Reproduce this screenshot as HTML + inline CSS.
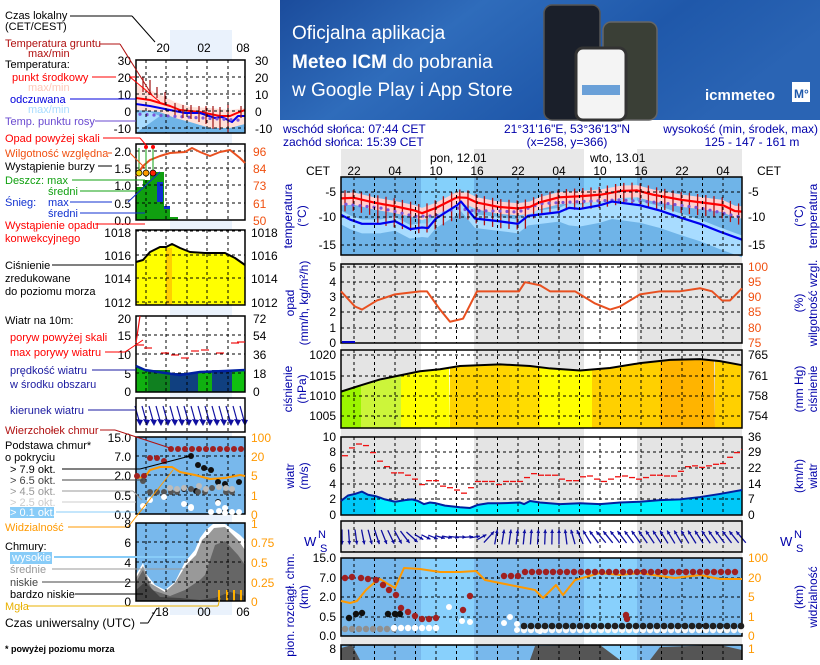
<!DOCTYPE html>
<html><head><meta charset="utf-8">
<style>
html,body{margin:0;padding:0;background:#fff;}
body{width:820px;height:660px;overflow:hidden;position:relative;font-family:"Liberation Sans",sans-serif;}
svg text{font-family:"Liberation Sans",sans-serif;}
</style></head><body>
<svg id="s" width="820" height="660" viewBox="0 0 820 660" xmlns="http://www.w3.org/2000/svg">
<defs>
<linearGradient id="bn" x1="0" y1="0" x2="1" y2="0.3">
<stop offset="0" stop-color="#1b4c9c"/><stop offset="0.35" stop-color="#2f6cbb"/><stop offset="0.7" stop-color="#1f58aa"/><stop offset="1" stop-color="#2a64b4"/></linearGradient>
</defs>
<rect x="280" y="0" width="540" height="120" fill="url(#bn)"/>
<text x="292" y="39" fill="#fff" font-size="19">Oficjalna aplikacja</text>
<text x="292" y="68" fill="#fff" font-size="19"><tspan font-weight="bold">Meteo ICM</tspan> do pobrania</text>
<text x="292" y="96" fill="#fff" font-size="19">w Google Play i App Store</text>
<rect x="544" y="5" width="56" height="115" rx="8" fill="#1a1f2a" stroke="#555" stroke-width="1.5"/>
<rect x="603" y="22" width="54" height="98" rx="8" fill="#3a3f36" stroke="#666" stroke-width="1.5"/>
<rect x="576" y="48" width="50" height="72" rx="7" fill="#f4f4f4" stroke="#333" stroke-width="3"/>
<rect x="582" y="85" width="38" height="10" fill="#6aa0d8"/>
<text x="705" y="100" fill="#fff" font-size="15" font-weight="bold">icmmeteo</text>
<rect x="792" y="82" width="18" height="20" fill="#fff"/><text x="794" y="98" fill="#1f58aa" font-size="12" font-weight="bold">M°</text>
<g id="g"></g>
</svg>
<script>
const S=document.getElementById('g');let h='';
function T(x,y,t,o={}){h+=`<text x="${x}" y="${y}" font-size="${o.fs||12}" fill="${o.c||'#000'}" ${o.a?`text-anchor="${o.a}"`:''} ${o.w?'font-weight="bold"':''} ${o.tr?`transform="${o.tr}"`:''}>${t}</text>`;}
function R(x,y,w,hh,c,extra=''){h+=`<rect x="${x}" y="${y}" width="${w}" height="${hh}" fill="${c}" ${extra}/>`;}
function L(x1,y1,x2,y2,c,w=1,d=''){h+=`<line x1="${x1}" y1="${y1}" x2="${x2}" y2="${y2}" stroke="${c}" stroke-width="${w}" ${d?`stroke-dasharray="${d}"`:''}/>`;}
function P(pts,c,w,fill='none'){h+=`<polyline points="${pts.map(p=>p.join(',')).join(' ')}" fill="${fill}" stroke="${c}" stroke-width="${w}" stroke-linejoin="round"/>`;}
function G(pts,c){h+=`<polygon points="${pts.map(p=>p.join(',')).join(' ')}" fill="${c}"/>`;}
function C(x,y,r,c){h+=`<circle cx="${x}" cy="${y}" r="${r}" fill="${c}"/>`;}
function lerp(a,x){for(let i=0;i<a.length-1;i++){if(x>=a[i][0]&&x<=a[i+1][0]){let t=(x-a[i][0])/(a[i+1][0]-a[i][0]);return a[i][1]+t*(a[i+1][1]-a[i][1]);}}return x<a[0][0]?a[0][1]:a[a.length-1][1];}
const X0=341,X1=742,W=X1-X0;
const gx=[];for(let i=0;i<19;i++)gx.push(354+i*20.5);
const NB='#0000aa';
T(283,133,'wschód słońca: 07:44 CET',{c:NB});T(283,146,'zachód słońca: 15:39 CET',{c:NB});
T(567,133,'21°31\'16"E, 53°36\'13"N',{c:NB,a:'middle'});T(567,146,'(x=258,  y=366)',{c:NB,a:'middle'});
T(818,133,'wysokość (min, środek, max)',{c:NB,a:'end'});T(752,146,'125 - 147 - 161 m',{c:NB,a:'middle'});
[[341,421],[474,584],[637,742]].forEach(b=>R(b[0],149,b[1]-b[0],511,'#e8e8e8'));
T(430,162,'pon, 12.01',{});T(590,162,'wto, 13.01',{});
T(306,175,'CET',{});T(757,175,'CET',{});
['22','04','10','16','22','04','10','16','22','04'].forEach((l,i)=>T(354+i*41,175,l,{a:'middle'}));
const days=[[421,474],[584,637]];
function panel(y0,y1,bgN,bgD){R(X0,y0,W,y1-y0,bgN);if(bgD)days.forEach(d=>R(d[0],y0,d[1]-d[0],y1-y0,bgD));}
function frame(y0,y1,hl){gx.forEach(x=>L(x,y0,x,y1,'#000',1,'3,3'));hl.forEach(y=>L(X0,y,X1,y,'#000',1,'3,3'));R(X0,y0,W,y1-y0,'none','stroke="#000" stroke-width="1.5"');}
const ty=t=>192+(-5-t)*5.3;
panel(177,255,'#6fb4e8','#84d0fb');
const red=[[341,-6.2],[354,-6.1],[374,-7],[395,-7.7],[415,-8.5],[422,-9],[436,-8],[457,-6],[467,-6.1],[477,-7],[498,-7.8],[518,-8.1],[530,-7.8],[539,-7],[559,-6],[580,-5.8],[601,-5.5],[621,-4.8],[637,-4.7],[653,-5.5],[682,-6.5],[703,-7],[723,-7.5],[735,-8.6],[742,-8.7]];
const blu=[[341,-9.3],[350,-10.2],[362,-11],[380,-11],[395,-10.5],[410,-12],[422,-11.7],[428,-11.8],[436,-10],[457,-7.5],[461,-6.8],[475,-10],[498,-10.5],[518,-11],[528,-9.5],[559,-8.8],[569,-8],[580,-8.2],[600,-7.5],[612,-6.8],[640,-7.5],[660,-8.5],[680,-9.8],[700,-11],[720,-12.5],[742,-14]];
let la=blu.map(p=>[p[0],ty(p[1]+0.8)]);la.push([742,255],[341,255]);
G(la,'#a8dcff');
let lb=blu.map(p=>[p[0],ty(p[1]-1.8-(p[0]>560?1.5:0))]);lb.push([742,255],[341,255]);G(lb,'#6fb4e8');
let pk=red.map(p=>[p[0],ty(p[1]+1)]).concat(red.slice().reverse().map(p=>[p[0],ty(p[1]-1.3)]));G(pk,'#ffd0d0');
for(let x=345;x<742;x+=8.2){let t=lerp(red,x);let up=1.5,dn=(x>370&&x<530)?4:2.5;L(x,ty(t+up),x,ty(t-dn),'#b01010',1.3);}
const dew=[[341,-7.2],[380,-8],[415,-9.6],[436,-9.5],[457,-8],[470,-8.5],[500,-8.6],[518,-8.8],[540,-7.2],[580,-6.8],[620,-6.5],[660,-7],[700,-8],[742,-9.8]];
for(let x=346;x<742;x+=7){C(x,ty(lerp(dew,x)),1.6,'#7a55d8');}
P(red.map(p=>[p[0],ty(p[1])]),'#ff0000',2.2);P(blu.map(p=>[p[0],ty(p[1])]),'#0000ee',2.2);
frame(177,255,[192,217,245]);
[['-5',192],['-10',217],['-15',245]].forEach(a=>{T(336,a[1]+4,a[0],{a:'end'});T(748,a[1]+4,a[0]);});
T(0,0,'temperatura',{c:NB,a:'middle',tr:'translate(292,216) rotate(-90)'});T(0,0,'(°C)',{c:NB,a:'middle',tr:'translate(306,216) rotate(-90)'});
T(0,0,'(°C)',{c:NB,a:'middle',tr:'translate(803,216) rotate(-90)'});T(0,0,'temperatura',{c:NB,a:'middle',tr:'translate(817,216) rotate(-90)'});
panel(264,343,'#e4e4e4','#ffffff');
const rh=[[341,92],[355,87],[362,86],[377,89],[395,91],[420,92],[427,92],[440,86],[450,82],[463,83],[477,92],[500,92],[519,92],[525,95],[540,94],[550,92],[575,92],[595,88],[610,86],[620,87],[640,91],[660,92],[680,92],[700,93],[712,92],[722,89],[730,89],[742,93]];
frame(264,343,[267,282,297,312,328]);
P(rh.map(p=>[p[0],267+(100-p[1])*3.04]),'#e85020',2);
L(342,342,355,342,'#0000cc',2);
[['5',267],['4',282],['3',297],['2',312],['1',328],['0',343]].forEach(a=>T(336,a[1]+4,a[0],{a:'end'}));
[['100',267],['95',282],['90',297],['85',312],['80',328],['75',343]].forEach(a=>T(748,a[1]+4,a[0],{c:'#f05010'}));
T(0,0,'opad',{c:NB,a:'middle',tr:'translate(294,303) rotate(-90)'});T(0,0,'(mm/h, kg/m²/h)',{c:NB,a:'middle',tr:'translate(308,303) rotate(-90)'});
T(0,0,'(%)',{c:NB,a:'middle',tr:'translate(803,303) rotate(-90)'});T(0,0,'wilgotność wzgl.',{c:NB,a:'middle',tr:'translate(817,303) rotate(-90)'});
const py=p=>355+(1020-p)*4.07;
panel(350,428,'#e4e4e4','#ffffff');
const pr=[[341,1011],[360,1012.5],[380,1014],[400,1015],[420,1016],[440,1016.5],[460,1017.3],[500,1017.7],[530,1017.3],[550,1016.7],[580,1016.2],[610,1016.8],[640,1018],[670,1018.8],[700,1019],[720,1018.5],[742,1017.5]];
const cz=[[341,361,'#9cf500'],[361,401,'#ccf53a'],[401,450,'#ffff00'],[450,510,'#ffd400'],[510,540,'#ffdc00'],[540,592,'#ffff00'],[592,660,'#ffd000'],[660,715,'#ffb400'],[715,742,'#ffd000']];
cz.forEach(z=>{let pts=[];for(let x=z[0];x<=z[1];x+=2)pts.push([x,py(lerp(pr,x))]);pts.push([z[1],428],[z[0],428]);G(pts,z[2]);});
frame(350,428,[355,376,396,416]);
P(pr.map(p=>[p[0],py(p[1])]),'#000',2);
[['1020',355],['1015',376],['1010',396],['1005',416]].forEach(a=>T(336,a[1]+4,a[0],{a:'end'}));
[['765',355],['761',376],['758',396],['754',416]].forEach(a=>T(748,a[1]+4,a[0]));
T(0,0,'ciśnienie',{c:NB,a:'middle',tr:'translate(292,389) rotate(-90)'});T(0,0,'(hPa)',{c:NB,a:'middle',tr:'translate(306,389) rotate(-90)'});
T(0,0,'(mm Hg)',{c:NB,a:'middle',tr:'translate(803,389) rotate(-90)'});T(0,0,'ciśnienie',{c:NB,a:'middle',tr:'translate(817,389) rotate(-90)'});
const wy=v=>515-7.8*v;
panel(437,515,'#e4e4e4','#ffffff');
const ws=[[341,1.8],[348,2.5],[355,2.7],[362,3.0],[368,2.6],[376,2.4],[385,2.0],[395,1.7],[405,1.9],[412,2.0],[418,1.8],[424,1.4],[430,1.6],[436,1.5],[445,1.2],[460,1.0],[470,0.9],[478,1.3],[488,1.5],[500,1.5],[520,1.6],[524,1.4],[530,1.8],[540,1.6],[560,1.4],[580,1.5],[600,1.4],[620,1.6],[640,1.7],[660,1.9],[680,2.0],[700,2.3],[720,2.7],[742,3.2]];
let wa=ws.map(p=>[p[0],wy(p[1])]);wa.push([742,515],[341,515]);G(wa,'#00f0ff');
let wl=ws.filter(p=>p[0]<=376).map(p=>[p[0],wy(p[1])]);wl.push([376,515],[341,515]);G(wl,'#00c8f8');
let wr=ws.filter(p=>p[0]>=680).map(p=>[p[0],wy(p[1])]);wr.push([742,515],[680,515]);G(wr,'#00c8f8');
frame(437,515,[437,452,468,484,499]);
P(ws.map(p=>[p[0],wy(p[1])]),'#0020a0',2);
const gu=[7.6,8.6,9.1,8.9,8.0,6.9,6.2,5.4,5.4,5.1,4.6,3.9,4.4,4.4,3.7,3.5,3.2,2.8,3.5,4.3,4.3,4.3,3.9,4.3,4.3,4.3,4.8,5.3,5.1,5.1,5.1,4.6,4.4,4.4,4.9,5.0,4.6,4.3,4.6,4.9,5.0,4.8,4.6,4.8,5.1,5.1,5.0,5.0,5.6,6.2,6.3,6.1,6.3,6.5,6.6,7.4,8.0,8.4];
gu.forEach((v,i)=>{let x=342+i*7;if(x<742)L(x,wy(v),Math.min(x+6,742),wy(v),'#ee1010',1.3);});
[['10',437],['8',452],['6',468],['4',484],['2',499],['0',515]].forEach(a=>T(336,a[1]+4,a[0],{a:'end'}));
[['36',437],['29',452],['22',468],['14',484],['7',499],['0',515]].forEach(a=>T(748,a[1]+4,a[0]));
T(0,0,'wiatr',{c:NB,a:'middle',tr:'translate(294,476) rotate(-90)'});T(0,0,'(m/s)',{c:NB,a:'middle',tr:'translate(308,476) rotate(-90)'});
T(0,0,'(km/h)',{c:NB,a:'middle',tr:'translate(803,476) rotate(-90)'});T(0,0,'wiatr',{c:NB,a:'middle',tr:'translate(817,476) rotate(-90)'});
panel(521,552,'#e4e4e4','#ffffff');
gx.forEach(x=>L(x,521,x,552,'#000',1,'3,3'));
const dir=[[341,180],[400,150],[420,120],[450,100],[475,80],[490,40],[496,10],[560,0],[585,-30],[600,-40],[680,-30],[742,-40]];
for(let i=0;i<58;i++){let x=342+i*7;let a=lerp(dir,x)*Math.PI/180;let len=(lerp(dir,x)>60&&lerp(dir,x)<130)?10:15;let dx=Math.sin(a)*len/2,dy=-Math.cos(a)*len/2;let cx=x,cy=537;let x1=cx-dx,y1=cy-dy,x2=cx+dx,y2=cy+dy;L(x1,y1,x2,y2,'#1010a0',1.3);let ang=Math.atan2(y2-y1,x2-x1);let hx1=x2-4*Math.cos(ang-0.5),hy1=y2-4*Math.sin(ang-0.5),hx2=x2-4*Math.cos(ang+0.5),hy2=y2-4*Math.sin(ang+0.5);G([[x2,y2],[hx1,hy1],[hx2,hy2]],'#1010a0');}
R(X0,521,W,31,'none','stroke="#000" stroke-width="1.5"');
[[316,540],[792,540]].forEach(p=>{T(p[0]-12,p[1]+6,'W',{c:NB,fs:13});T(p[0]+2,p[1]-2,'N',{c:NB,fs:11});T(p[0]+4,p[1]+12,'S',{c:NB,fs:11});});
panel(558,636,'#78b8ec','#88d0fc');
const oy=[[341,601],[350,603],[357,601],[366,590],[375,582],[380,579],[388,584],[395,588],[404,568],[420,569],[440,572],[460,572],[476,571],[485,580],[500,583],[520,587],[535,590],[543,598],[556,585],[563,595],[575,580],[600,573],[620,575],[640,573],[660,576],[675,578],[700,575],[720,579],[742,579]];
frame(558,636,[578,597,617]);
P(oy,'#ff9900',2);
const dr=[[345,578],[352,577],[361,578],[368,579],[376,580],[383,585],[389,590],[396,595],[401,608],[408,612],[415,616],[422,619],[429,619],[436,618],[463,610],[470,596]];
dr.forEach(d=>C(d[0],d[1],3.2,'#a02020'));
for(let x=504;x<742;x+=7){C(x,x<520?576:572,3.2,'#a02020');}
[[349,618],[356,614],[362,613],[388,614],[395,614],[400,614]].forEach(d=>C(d[0],d[1],3.2,'#101010'));
for(let x=345;x<400;x+=7)C(x,629,3.2,'#909090');
for(let x=394;x<440;x+=7)C(x,628,3.2,'#ffffff');
[[449,607],[462,621],[470,622],[510,617],[504,623],[517,624],[517,630],[540,631]].forEach(d=>C(d[0],d[1],3,'#fff'));
for(let x=524;x<742;x+=7){C(x,630,3.2,'#f8f8f8');C(x,626,3.3,'#202020');}
[[626,615],[627,619]].forEach(d=>C(d[0],d[1],3.2,'#a02020'));
[['15.0',558],['7.0',578],['2.0',597],['0.5',617],['0.0',636]].forEach(a=>T(336,a[1]+4,a[0],{a:'end'}));
[['100',558],['20',578],['5',597],['1',617],['0',636]].forEach(a=>T(748,a[1]+4,a[0],{c:'#ff9900'}));
T(0,0,'pion. rozciągł. chm.',{c:NB,a:'middle',tr:'translate(294,605) rotate(-90)'});T(0,0,'(km)',{c:NB,a:'middle',tr:'translate(308,597) rotate(-90)'});
T(0,0,'(km)',{c:NB,a:'middle',tr:'translate(803,597) rotate(-90)'});T(0,0,'widzialność',{c:NB,a:'middle',tr:'translate(817,597) rotate(-90)'});
panel(645,660,'#78b8ec','#88d0fc');
G([[341,648],[352,645],[360,660],[341,660]],'#555');G([[530,660],[535,646],[600,645],[620,660]],'#555');G([[650,660],[660,647],[720,645],[742,650],[742,660]],'#555');
gx.forEach(x=>L(x,645,x,660,'#000',1,'3,3'));R(X0,645,W,20,'none','stroke="#000" stroke-width="1.5"');
T(336,653,'8',{a:'end'});T(748,653,'1',{c:'#ff9900'});
const lx0=136,lx1=245,lw=109;
R(170,30,62,585,'#eaf2fc');
const lgx=[146,166,187,207,228];
function lframe(y0,y1,hl){lgx.forEach(x=>L(x,y0,x,y1,'#000',1,'3,3'));hl.forEach(y=>L(lx0,y,lx1,y,'#000',1,'3,3'));R(lx0,y0,lw,y1-y0,'none','stroke="#000" stroke-width="1.5"');}
const fs=11;
T(5,19,'Czas lokalny',{fs});T(5,30,'(CET/CEST)',{fs});
L(70,16,132,16,'#000');L(132,16,155,42,'#000');
T(163,52,'20',{fs:12,a:'middle'});T(204,52,'02',{fs:12,a:'middle'});T(243,52,'08',{fs:12,a:'middle'});
R(lx0,60,lw,73,'#fff');
G([[136,84],[150,90],[165,97],[175,102],[190,107],[210,108],[230,110],[245,108],[245,133],[136,133]],'#ffe0d8');
G([[136,110],[160,112],[175,118],[190,122],[210,128],[230,128],[245,124],[245,133],[136,133]],'#6fb4e8');
G([[136,113],[150,112],[160,116],[136,133]],'#a8dcff');
P([[136,98],[150,100],[170,106],[180,110],[200,112],[220,116],[230,116],[237,113],[245,110]],'#ff0000',2);
P([[136,104],[150,106],[170,110],[185,113],[200,113],[215,118],[222,117],[232,122],[238,116],[245,116]],'#0000ee',2);
for(let x=140;x<245;x+=7)C(x,114+(x-136)*0.06,1.6,'#7a55d8');
[[143,77,92],[150,80,95],[157,87,98],[165,92,105],[175,103,115],[183,105,118],[191,105,119],[199,106,122],[206,106,124],[213,106,129],[220,107,130],[228,104,132],[241,106,118]].forEach(b=>L(b[0],b[1],b[0],b[2],'#a01010',1.2));
lframe(60,133,[77,94,111,128]);
[['30',60],['20',77],['10',94],['0',111],['-10',128]].forEach(a=>{T(131,a[1]+5,a[0],{a:'end',fs:12});T(255,a[1]+5,a[0],{fs:12});});
T(5,47,'Temperatura gruntu',{fs,c:'#b01010'});T(28,57,'max/min',{fs,c:'#b01010'});
L(100,44,120,44,'#b01010');L(120,44,152,95,'#b01010');
T(5,68,'Temperatura:',{fs});
T(12,81,'punkt środkowy',{fs,c:'#ff0000'});L(92,77,116,77,'#ff0000');L(129,77,136,77,'#ff0000');L(130,77,160,102,'#ff0000');
T(28,91,'max/min',{fs,c:'#ffc8b8'});
T(10,103,'odczuwana',{fs,c:'#0000dd'});L(70,99,136,99,'#0000dd');
T(28,113,'max/min',{fs,c:'#a8dcff'});
T(5,125,'Temp. punktu rosy',{fs,c:'#6a4ad0'});L(95,121,136,121,'#6a4ad0');
R(lx0,144,lw,76,'#fff');
R(136,187,23,33,'#10a010');R(143,180,16,40,'#10a010');R(150,172,14,48,'#10a010');R(157,186,6,34,'#10a010');R(164,206,6,14,'#10a010');R(170,217,8,3,'#10a010');
R(157,182,6,20,'#1030d0');R(164,206,6,3,'#1030d0');
lframe(144,220,[151,168,185,203]);
P([[136,176],[143,166],[150,160],[160,156],[170,153],[185,152],[192,148],[200,152],[210,156],[220,152],[230,150],[240,158],[245,163]],'#e85020',2);
[[139,173,'#f0d000'],[146,173,'#ff9900'],[153,173,'#ff2000']].forEach(c=>{L(c[0],148,c[0],173,'#10a010');C(c[0],173,3,c[2]);h+=`<circle cx="${c[0]}" cy="173" r="3" fill="none" stroke="#000" stroke-width=".7"/>`;});
C(146,147,2,'#ff0000');C(153,147,2,'#ff0000');
[['2.0',151],['1.5',168],['1.0',185],['0.5',203],['0.0',220]].forEach(a=>T(131,a[1]+5,a[0],{a:'end',fs:12}));
[['96',151],['84',168],['73',185],['61',203],['50',220]].forEach(a=>T(253,a[1]+5,a[0],{fs:12,c:'#f05010'}));
T(5,142,'Opad powyżej skali',{fs,c:'#ff0000'});L(103,138,140,138,'#ff0000');L(140,138,146,145,'#ff0000');
T(5,157,'Wilgotność względna',{fs,c:'#f05010'});L(108,153,112,153,'#f05010');L(130,153,145,168,'#f05010');
T(5,170,'Wystąpienie burzy',{fs});L(98,166,112,166,'#000');
T(5,184,'Deszcz: max',{fs,c:'#10a010'});L(72,180,145,180,'#10a010');
T(48,195,'średni',{fs,c:'#10a010'});L(80,191,145,191,'#10a010');
T(5,206,'Śnieg:',{fs,c:'#1030d0'});T(48,206,'max',{fs,c:'#1030d0'});L(70,202,112,202,'#1030d0');L(128,202,160,172,'#1030d0');
T(48,217,'średni',{fs,c:'#1030d0'});L(80,213,145,213,'#1030d0');
T(5,229,'Wystąpienie opadu',{fs,c:'#ff0000'});T(5,242,'konwekcyjnego',{fs,c:'#ff0000'});L(95,224,145,224,'#ff0000');
R(lx0,230,lw,75,'#fff');
G([[136,262],[143,260],[150,252],[160,247],[166,247],[172,244],[180,248],[190,252],[205,253],[225,253],[235,258],[245,265],[245,305],[136,305]],'#ffff00');
R(166,248,6,57,'#ffd000');
lframe(230,305,[231,255,278,302]);
P([[136,262],[143,260],[150,252],[160,247],[166,247],[172,244],[180,248],[190,252],[205,253],[225,253],[235,258],[245,265]],'#000',2);
[['1018',232],['1016',255],['1014',278],['1012',302]].forEach(a=>{T(131,a[1]+5,a[0],{a:'end',fs:12});T(251,a[1]+5,a[0],{fs:12});});
T(5,269,'Ciśnienie',{fs});L(52,265,134,265,'#000');T(5,282,'zredukowane',{fs});T(5,295,'do poziomu morza',{fs});
R(lx0,316,lw,76,'#fff');
G([[136,366],[145,370],[165,373],[180,375],[200,372],[225,371],[245,370],[245,392],[136,392]],'#10b010');
R(148,370,22,22,'#108020');R(170,373,28,19,'#104080');R(212,370,20,22,'#104080');R(232,370,13,22,'#10c010');
lframe(316,392,[335,354,373]);
P([[136,366],[145,370],[165,373],[180,375],[200,372],[225,371],[245,370]],'#0020a0',2.5);
[[140,345],[148,348],[165,353],[175,355],[185,358],[195,351],[205,350],[220,353],[235,343],[241,342]].forEach(g=>L(g[0]-4,g[1],g[0]+4,g[1],'#ee1010',1.2));
L(136,343,140,316,'#ee1010',1.2);
[['20',318],['15',335],['10',354],['5',373],['0',391]].forEach(a=>T(131,a[1]+5,a[0],{a:'end',fs:12}));
[['72',318],['54',335],['36',354],['18',373],['0',391]].forEach(a=>T(253,a[1]+5,a[0],{fs:12}));
T(5,324,'Wiatr na 10m:',{fs});
T(10,341,'poryw powyżej skali',{fs,c:'#ff0000'});
T(10,356,'max porywy wiatru',{fs,c:'#ff0000'});L(105,352,125,352,'#ff0000');L(125,352,143,340,'#ff0000');
T(10,374,'prędkość wiatru',{fs,c:'#1a1aa0'});L(92,370,136,370,'#1a1aa0');T(10,388,'w środku obszaru',{fs,c:'#1a1aa0'});
R(lx0,398,lw,34,'#fff');
for(let x=140;x<250;x+=7){L(x-5,406,x,424,'#1010a0',1.2);G([[x,426],[x-4,419],[x+3,420]],'#1010a0');}
lgx.forEach(x=>L(x,398,x,432,'#000',1,'3,3'));R(lx0,398,lw,34,'none','stroke="#000" stroke-width="1.5"');
T(10,414,'kierunek wiatru',{fs,c:'#1a1aa0'});L(88,410,136,410,'#1a1aa0');
R(lx0,437,lw,77,'#78b8ec');
lframe(437,514,[456,475,495]);
P([[136,478],[145,477],[150,470],[160,467],[172,467],[180,472],[195,475],[210,479],[225,478],[240,475],[245,476]],'#ff9900',2);
[[137,476],[144,476],[150,458],[157,458],[164,461],[171,449],[178,449],[185,449],[192,449],[199,449],[206,449],[213,449],[220,449],[227,449],[234,449],[241,449]].forEach(d=>C(d[0],d[1],3,'#a02020'));
[[191,456],[198,465],[204,468],[211,470],[218,482],[225,484],[239,482],[184,489],[196,491],[218,502],[225,512]].forEach(d=>C(d[0],d[1],3,'#111'));
[[143,481],[150,492],[157,492],[164,492],[171,492],[177,492],[191,489],[198,492],[205,492],[212,488],[226,492],[232,492]].forEach(d=>C(d[0],d[1],3,'#555'));
[[170,488],[177,489],[184,488],[199,486],[206,489],[219,487],[226,488],[232,489]].forEach(d=>C(d[0],d[1],3,'#bbb'));
[[143,506],[150,500],[164,497],[184,504],[191,507],[218,503],[225,508],[219,511],[225,513],[232,512],[239,512],[211,512],[191,508]].forEach(d=>C(d[0],d[1],3,'#fff'));
[['15.0',437],['7.0',456],['2.0',475],['0.5',495],['0.0',514]].forEach(a=>T(131,a[1]+5,a[0],{a:'end',fs:12}));
[['100',437],['20',456],['5',475],['1',495],['0',514]].forEach(a=>T(251,a[1]+5,a[0],{fs:12,c:'#ff9900'}));
T(5,434,'Wierzchołek chmur',{fs,c:'#b01010'});L(100,430,115,430,'#b01010');L(115,430,170,448,'#b01010');
T(5,449,'Podstawa chmur*',{fs});T(5,461,'o pokryciu',{fs});
T(10,473,'> 7.9 okt.',{fs});L(62,469,140,469,'#000');L(140,469,190,456,'#000');
T(10,484,'> 6.5 okt.',{fs,c:'#444'});L(62,480,143,480,'#444');
T(10,495,'> 4.5 okt.',{fs,c:'#999'});L(62,491,133,491,'#999');L(133,491,142,500,'#999');
T(10,506,'> 2.5 okt.',{fs,c:'#ccc'});L(62,502,136,502,'#ccc');
R(10,507,44,11,'#88ccf8');T(10,516,'> 0.1 okt.',{fs,c:'#fff'});L(56,512,136,512,'#88ccf8');
T(5,531,'Widzialność',{fs,c:'#ff9900'});L(68,527,128,527,'#ff9900');L(128,527,173,470,'#ff9900');
R(lx0,523,lw,78,'#78b8ec');
G([[136,575],[140,568],[143,563],[147,575],[155,585],[165,590],[175,582],[185,562],[195,550],[200,538],[206,530],[213,524],[225,524],[240,535],[245,540],[245,601],[136,601]],'#fff');
G([[136,578],[143,566],[150,583],[165,592],[175,583],[186,565],[196,555],[202,540],[208,535],[214,528],[225,527],[238,540],[245,550],[245,601],[136,601]],'#999');
G([[136,582],[143,570],[152,590],[170,596],[185,590],[200,580],[205,575],[215,545],[225,541],[238,555],[245,565],[245,601],[136,601]],'#666');
G([[136,590],[145,582],[160,597],[180,598],[200,600],[215,598],[230,592],[245,596],[245,601],[136,601]],'#444');
R(218,590,2,11,'#ffb000');R(226,590,2,11,'#ffb000');R(233,590,2,11,'#ffb000');R(240,590,2,11,'#ffb000');
lframe(523,601,[542,562,582]);
[['8',523],['6',542],['4',562],['2',582],['0',601]].forEach(a=>T(131,a[1]+5,a[0],{a:'end',fs:12}));
[['1',523],['0.75',542],['0.5',562],['0.25',582],['0',601]].forEach(a=>T(251,a[1]+5,a[0],{fs:12,c:'#ff9900'}));
T(5,550,'Chmury:',{fs});
R(10,552,42,12,'#88ccf8');T(12,561,'wysokie',{fs,c:'#fff'});L(54,557,186,557,'#88ccf8',2);
T(10,573,'średnie',{fs,c:'#999'});L(52,569,186,569,'#999');
T(10,586,'niskie',{fs,c:'#444'});L(42,582,136,582,'#444');
T(10,598,'bardzo niskie',{fs});L(75,594,143,594,'#000');
T(5,610,'Mgła',{fs,c:'#e8b000'});L(28,606,218,606,'#e8b000');L(218,606,220,598,'#e8b000');
T(160,616,'-18',{a:'middle',fs:12});T(204,616,'00',{a:'middle',fs:12});T(243,616,'06',{a:'middle',fs:12});
T(5,627,'Czas uniwersalny (UTC)',{fs:12});L(140,623,148,623,'#000');L(148,623,157,608,'#000');
T(5,652,'* powyżej poziomu morza',{fs:9,w:1});
S.innerHTML=h;
</script>
</body></html>
